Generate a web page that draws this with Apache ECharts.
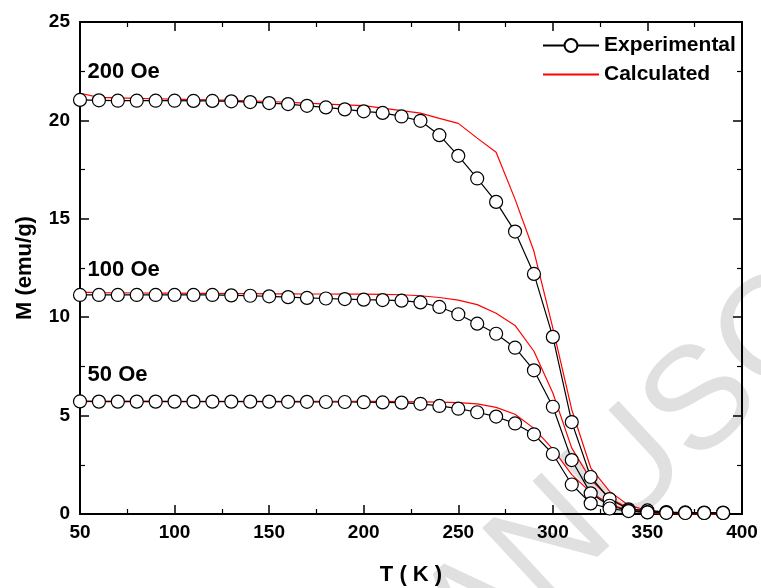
<!DOCTYPE html>
<html>
<head>
<meta charset="utf-8">
<script src="https://cdn.jsdelivr.net/npm/echarts@6/dist/echarts.min.js"></script>
<style>
html, body { margin: 0; padding: 0; background: #fff; }
#main { width: 761px; height: 588px; }
</style>
</head>
<body>
<div id="main"></div>
<script>
// temperature (K)
const temps = [50, 60, 70, 80, 90, 100, 110, 120, 130, 140, 150, 160, 170, 180, 190, 200, 210, 220, 230, 240,
    250, 260, 270, 280, 290, 300, 310, 320, 330, 340, 350, 360, 370, 380, 390];

// measured M (emu/g)
const exp200 = [21.04, 21.02, 21.0, 21.0, 21.0, 21.0, 20.99, 20.99, 20.97, 20.93, 20.88, 20.83, 20.74, 20.66, 20.56, 20.46, 20.38, 20.2, 19.98, 19.25,
    18.2, 17.05, 15.86, 14.35, 12.2, 9.0, 4.67, 1.88, 0.76, 0.24, 0.18, 0.1, 0.08, 0.07, 0.07];
const exp100 = [11.13, 11.13, 11.13, 11.13, 11.13, 11.13, 11.13, 11.13, 11.11, 11.09, 11.06, 11.02, 10.98, 10.95, 10.92, 10.89, 10.87, 10.84, 10.75, 10.52,
    10.15, 9.67, 9.16, 8.45, 7.3, 5.45, 2.74, 1.05, 0.42, 0.18, 0.1, 0.07, 0.06, 0.05, 0.05];
const exp50 = [5.72, 5.71, 5.71, 5.71, 5.71, 5.71, 5.71, 5.71, 5.71, 5.71, 5.71, 5.7, 5.7, 5.69, 5.69, 5.68, 5.67, 5.66, 5.6, 5.49,
    5.35, 5.17, 4.95, 4.6, 4.05, 3.05, 1.5, 0.54, 0.28, 0.15, 0.08, 0.06, 0.05, 0.05, 0.05];

// model M (emu/g)
const calc200 = [21.38, 21.17, 21.14, 21.12, 21.1, 21.08, 21.06, 21.04, 21.02, 20.99, 20.96, 20.92, 20.88, 20.83, 20.79, 20.75, 20.62, 20.5, 20.37, 20.1,
    19.85, 19.1, 18.38, 16.0, 13.35, 9.45, 5.3, 2.35, 1.15, 0.45, 0.18, 0.07, 0.03, 0.01, 0.0];
const calc100 = [11.27, 11.25, 11.24, 11.23, 11.22, 11.22, 11.21, 11.21, 11.2, 11.2, 11.19, 11.19, 11.18, 11.18, 11.17, 11.17, 11.16, 11.14, 11.09, 11.0,
    10.87, 10.64, 10.2, 9.58, 8.27, 6.15, 3.35, 1.75, 0.8, 0.3, 0.1, 0.04, 0.02, 0.01, 0.0];
const calc50 = [5.74, 5.74, 5.74, 5.74, 5.74, 5.73, 5.73, 5.73, 5.73, 5.73, 5.73, 5.73, 5.73, 5.73, 5.73, 5.73, 5.72, 5.71, 5.7, 5.68,
    5.66, 5.6, 5.42, 5.07, 4.35, 3.3, 2.0, 1.1, 0.5, 0.18, 0.05, 0.01, 0.01, 0.0, 0.0];

const fieldLabels = ['200 Oe', '100 Oe', '50 Oe'];
const labelAt = [[54, 22.45], [54, 12.4], [54, 7.05]];

const font = 'Liberation Sans';

function pairs(ys) {
    return temps.map((t, i) => [t, ys[i]]);
}

function expSeries(ys) {
    return {
        name: 'Experimental',
        type: 'line',
        data: pairs(ys),
        symbol: 'circle',
        symbolSize: 13,
        z: 4,
        lineStyle: {color: '#000', width: 1.2},
        itemStyle: {color: '#fff', borderColor: '#000', borderWidth: 1.2},
        emphasis: {disabled: true}
    };
}

function calcSeries(ys) {
    return {
        name: 'Calculated',
        type: 'line',
        data: pairs(ys),
        symbol: 'none',
        z: 3,
        lineStyle: {color: '#ff0000', width: 1.2},
        itemStyle: {color: '#ff0000'},
        emphasis: {disabled: true}
    };
}

function boxAxis(extra) {
    return Object.assign({
        axisLine: {show: true, onZero: false, lineStyle: {color: '#000', width: 2}},
        axisTick: {show: true, inside: true, length: 9, lineStyle: {color: '#000', width: 1.5}},
        minorTick: {show: true, splitNumber: 2, length: 5, lineStyle: {color: '#000', width: 1.2}},
        splitLine: {show: false}
    }, extra);
}

let chart = echarts.init(document.getElementById('main'));

let option = {
    animation: false,
    backgroundColor: '#fff',
    grid: {left: 80, right: 19, top: 22, bottom: 74, outerBoundsMode: 'none', containLabel: false},
    legend: {
        orient: 'vertical',
        left: 537,
        top: 30,
        itemWidth: 56,
        itemHeight: 16,
        itemGap: 8,
        data: ['Experimental', {name: 'Calculated', itemStyle: {opacity: 0}}],
        textStyle: {fontFamily: font, fontWeight: 'bold', fontSize: 21, color: '#000', padding: [0, 0, 0, 0]}
    },
    xAxis: [
        boxAxis({
            type: 'value', min: 50, max: 400, interval: 50, position: 'bottom',
            name: 'T ( K )', nameLocation: 'middle', nameGap: 50,
            nameTextStyle: {fontFamily: font, fontWeight: 'bold', fontSize: 22, color: '#000'},
            axisLabel: {fontFamily: font, fontWeight: 'bold', fontSize: 19, color: '#000', margin: 9}
        }),
        boxAxis({
            type: 'value', min: 50, max: 400, interval: 50, position: 'top',
            axisLabel: {show: false}
        })
    ],
    yAxis: [
        boxAxis({
            type: 'value', min: 0, max: 25, interval: 5, position: 'left',
            name: 'M (emu/g)', nameLocation: 'middle', nameGap: 44,
            nameTextStyle: {fontFamily: font, fontWeight: 'bold', fontSize: 22, color: '#000'},
            axisLabel: {fontFamily: font, fontWeight: 'bold', fontSize: 19, color: '#000', margin: 10}
        }),
        boxAxis({
            type: 'value', min: 0, max: 25, interval: 5, position: 'right',
            axisLabel: {show: false}
        })
    ],
    series: [
        calcSeries(calc200), calcSeries(calc100), calcSeries(calc50),
        expSeries(exp200), expSeries(exp100), expSeries(exp50)
    ]
};

chart.setOption(option);

// field labels and the faint watermark
let graphics = fieldLabels.map((txt, i) => {
    let p = chart.convertToPixel({gridIndex: 0}, labelAt[i]);
    return {
        type: 'text', x: p[0], y: p[1], z: 10,
        style: {text: txt, fontFamily: font, fontWeight: 'bold', fontSize: 22, fill: '#000',
            textVerticalAlign: 'middle'}
    };
});
graphics.push({
    type: 'text', x: 355, y: 728, rotation: 0.75, z: -1, silent: true,
    style: {text: 'MANUSCRIPT', fontFamily: font, fontSize: 145, fill: '#e0e0e0',
        textAlign: 'left', textVerticalAlign: 'middle'}
});
chart.setOption({graphic: graphics});
</script>
</body>
</html>
